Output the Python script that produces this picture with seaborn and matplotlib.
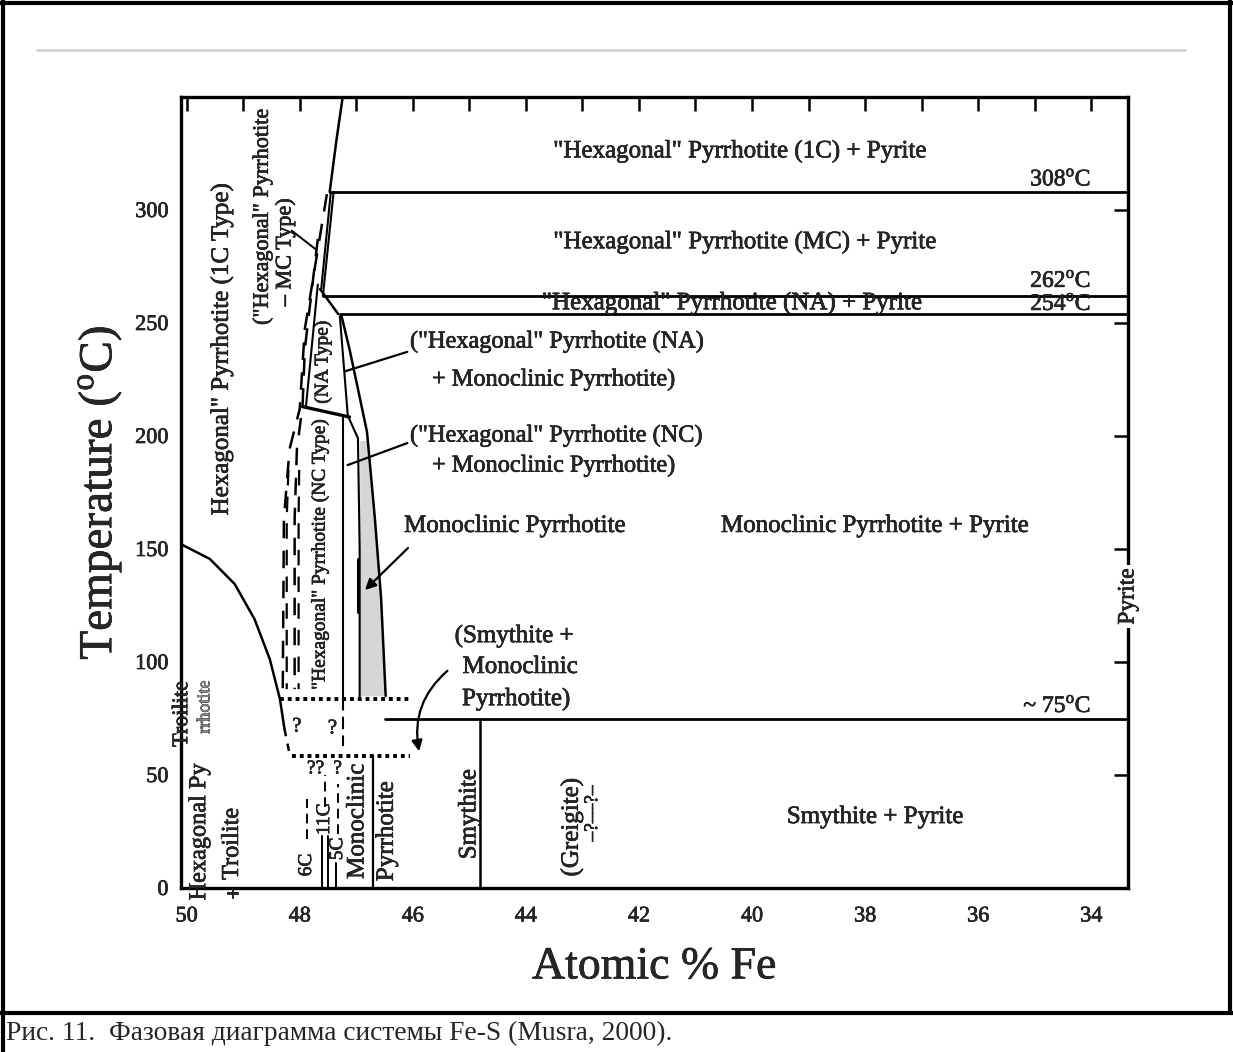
import numpy as np
import matplotlib
matplotlib.use("Agg")
import matplotlib.pyplot as plt
import matplotlib.patheffects as pe
import seaborn as sns
from matplotlib.lines import Line2D

# ---------------- data (x = Atomic % Fe, y = Temperature, °C) ----------------
x_ticks = [50, 48, 46, 44, 42, 40, 38, 36, 34]
y_ticks = [0, 50, 100, 150, 200, 250, 300]

iso_T = [308, 262, 254, 75]
iso_x0 = [47.47, 47.59, 47.29, 46.50]
iso_labels = ["308$^{\\rm o}$C", "262$^{\\rm o}$C", "254$^{\\rm o}$C", "~ 75$^{\\rm o}$C"]
iso_label_T = [313.5, 268.6, 258.4, 80.5]

top_x = [47.24, 47.35, 47.47]
top_T = [350, 331, 308]

mc1_x = [47.45, 47.62]
mc1_T = [308, 265]
mc2_x = [47.40, 47.59]
mc2_T = [308, 262]

diag_x = [47.64, 47.32]
diag_T = [265, 254]

na_left_x = [47.68, 47.89]
na_left_T = [267, 213]

nanc_x = [47.95, 47.12]
nanc_T = [213, 208.4]

na_right_x = [47.29, 47.15, 46.97, 46.94, 46.94]
na_right_T = [253, 209, 199, 150, 84]

mono_x = [47.26, 47.12, 46.97, 46.81, 46.67, 46.56, 46.48]
mono_T = [253, 238.5, 220.8, 201.8, 163.3, 127.9, 85]

nc_line_x = [47.24, 47.24]
nc_line_T = [208.4, 84]
nc_q_x = [47.24, 47.24]
nc_q_T = [84, 63]

short_x = [46.97, 46.97]
short_T = [145.6, 122]

wavy1_x = [48.35, 46.05]
wavy1_T = [83.6, 83.6]
wavy2_x = [48.14, 46.05]
wavy2_T = [58.4, 58.4]

troil_x = [50.09, 49.59, 49.15, 48.80, 48.53, 48.35, 48.27]
troil_T = [152, 145.6, 134.5, 119, 101.3, 83.6, 70.4]
troil_tail_x = [48.27, 48.18]
troil_tail_T = [70.4, 59.3]

dashA_x = [47.52, 47.91, 48.00, 48.18, 48.28, 48.30]
dashA_T = [307, 247.3, 212, 194.2, 163.3, 88]
dashB_x = [47.68, 47.91, 47.95, 48.05, 48.09, 48.09]
dashB_T = [287.2, 238.5, 213.3, 194.2, 163.3, 88]
dashA2_x = [48.20, 48.23, 48.23]
dashA2_T = [185, 163.3, 88]
dashB2_x = [48.01, 48.02, 48.02]
dashB2_T = [185, 163.3, 88]

monoline_x = [46.71, 46.71]
monoline_T = [0, 58.4]
smyth_x = [44.81, 44.81]
smyth_T = [0, 75]

poly_lines_x = [47.61, 47.50, 47.35]
poly_lines_top = [23, 23, 11]
poly_dash_x = [47.88, 47.56, 47.33]
poly_dash_T0 = [21.7, 36, 24]
poly_dash_T1 = [39.4, 50, 46]
poly_labels = ["6C", "11C", "5C"]
poly_label_T = [10.2, 30.5, 17.3]

xmin, xmax = 50.1, 33.35
ymin, ymax = 0, 350

# ---------------- style ----------------
sns.set_theme(style="white")
plt.rcParams["font.family"] = ["Liberation Serif", "DejaVu Serif"]
plt.rcParams["mathtext.fontset"] = "custom"
plt.rcParams["mathtext.rm"] = "Liberation Serif"

fig = plt.figure(figsize=(12.33, 10.52), dpi=100)
ax = fig.add_axes([181 / 1233, 1 - 888 / 1052, (1128 - 181) / 1233, (888 - 97) / 1052])
ax.set_facecolor("white")

K = "black"
thick = [pe.withStroke(linewidth=0.45, foreground=K)]


def seg(x, y, lw=1.8, ls="-", color=K):
    sns.lineplot(x=x, y=y, sort=False, estimator=None, color=color, lw=lw, ls=ls, ax=ax, legend=False)


def txt(x, y, s, fs=18, rot=0, ha="center", va="center", **kw):
    return ax.text(x, y, s, rotation=rot, ha=ha, va=va, fontsize=fs, path_effects=thick, **kw)


# isotherms
for T, x0 in zip(iso_T, iso_x0):
    seg([x0, xmax], [T, T], lw=2.0)

seg(top_x, top_T, lw=1.8)
seg(mc1_x, mc1_T, lw=1.5)
seg(mc2_x, mc2_T, lw=1.5)
seg(diag_x, diag_T, lw=1.8)
seg(na_left_x, na_left_T, lw=1.5)
seg(nanc_x, nanc_T, lw=2.4)
seg(na_right_x, na_right_T, lw=1.5)
seg(mono_x, mono_T, lw=1.8)
seg(nc_line_x, nc_line_T, lw=1.5)
seg(nc_q_x, nc_q_T, lw=1.5, ls=(0, (6, 3)))
seg(short_x, short_T, lw=2.2)
seg(troil_x, troil_T, lw=1.8)
seg(troil_tail_x, troil_tail_T, lw=1.8, ls=(0, (3, 3)))
seg(dashA_x, dashA_T, lw=1.8, ls=(0, (7, 5)))
seg(dashB_x, dashB_T, lw=1.8, ls=(0, (7, 5)))
seg(dashA2_x, dashA2_T, lw=1.6, ls=(0, (7, 5)))
seg(dashB2_x, dashB2_T, lw=1.6, ls=(0, (7, 5)))
seg(monoline_x, monoline_T, lw=1.6)
seg(smyth_x, smyth_T, lw=1.8)
seg(wavy1_x, wavy1_T, lw=2.8, ls=(0, (1, 1)))
seg(wavy2_x, wavy2_T, lw=2.8, ls=(0, (1, 1)))

for x, top in zip(poly_lines_x, poly_lines_top):
    seg([x, x], [0, top], lw=1.4)
for x, t0, t1 in zip(poly_dash_x, poly_dash_T0, poly_dash_T1):
    seg([x, x], [t0, t1], lw=1.4, ls=(0, (5, 3)))
for x, t, lab in zip(poly_dash_x, poly_label_T, poly_labels):
    txt(x, t, lab, fs=14, rot=90)

# shaded monoclinic field
Tf = np.linspace(85, 198, 60)
xr = np.interp(Tf, mono_T[::-1], mono_x[::-1])
ax.fill_betweenx(Tf, 46.94, xr, color="#d6d6d6", lw=0, zorder=0)

# ---------------- texts ----------------
txt(40.21, 326, '"Hexagonal" Pyrrhotite (1C) + Pyrite')
txt(40.12, 285.8, '"Hexagonal" Pyrrhotite (MC) + Pyrite')
txt(40.35, 258.8, '"Hexagonal" Pyrrhotite (NA) + Pyrite')
for T, lab in zip(iso_label_T, iso_labels):
    txt(34.0, T, lab, ha="right", fs=17)

txt(46.05, 241.6, '("Hexagonal" Pyrrhotite (NA)', ha="left", fs=17.5)
txt(45.66, 224.8, '+ Monoclinic Pyrrhotite)', ha="left", fs=17.5)
txt(46.05, 200, '("Hexagonal" Pyrrhotite (NC)', ha="left", fs=17.5)
txt(45.66, 186.7, '+ Monoclinic Pyrrhotite)', ha="left", fs=17.5)
txt(44.19, 160.2, 'Monoclinic Pyrrhotite')
txt(37.82, 160.2, 'Monoclinic Pyrrhotite + Pyrite')
txt(45.26, 111.5, '(Smythite +', ha="left")
txt(45.12, 97.8, 'Monoclinic', ha="left")
txt(45.13, 83.6, 'Pyrrhotite)', ha="left")
txt(37.82, 31.4, 'Smythite + Pyrite')

# rotated labels
txt(49.38, 238.5, 'Hexagonal" Pyrrhotite (1C Type)', rot=90)
txt(48.65, 297, '("Hexagonal" Pyrrhotite', fs=16, rot=90)
txt(48.25, 281.4, '– MC Type)', fs=16, rot=90)
txt(47.59, 232.7, '(NA Type)', fs=14, rot=90)
txt(47.64, 147.8, '"Hexagonal" Pyrrhotite (NC Type)', fs=14, rot=90)
txt(48.05, 71.2, '?', fs=15)
txt(47.42, 70.4, '?', fs=15)
txt(47.72, 52.7, '??', fs=14)
txt(47.33, 52.7, '?', fs=14)
txt(45.00, 32.7, 'Smythite', rot=90)
txt(43.19, 27, '(Greigite)', rot=90)
txt(42.82, 33, '–?––?–', fs=14, rot=90)
txt(46.98, 29.6, 'Monoclinic', rot=90)
txt(46.46, 25.2, 'Pyrrhotite', rot=90)
txt(50.07, 77, 'Troilite', fs=16, rot=90)
txt(49.68, 80, 'rrhotite', fs=13, rot=90, color="#8a8a8a")
txt(49.77, 24.8, 'Hexagonal Py', fs=17.5, rot=90, clip_on=False)
txt(49.19, 19.5, 'Troilite', fs=17.5, rot=90)
txt(49.19, -3.5, '+', fs=16, clip_on=False)
txt(xmax, 129, 'Pyrite', fs=17, rot=90,
    bbox=dict(facecolor="white", edgecolor="none", pad=2.5), zorder=5, clip_on=False)

# pointers
ax.annotate("", xy=(47.24, 228.3), xytext=(46.05, 237.6),
            arrowprops=dict(arrowstyle="-", color=K, lw=1.6))
ax.annotate("", xy=(47.20, 186.7), xytext=(46.05, 197.3),
            arrowprops=dict(arrowstyle="-", color=K, lw=1.6))
ax.annotate("", xy=(47.68, 281.9), xytext=(48.18, 291.6),
            arrowprops=dict(arrowstyle="-", color=K, lw=1.4))
ax.annotate("", xy=(46.88, 131), xytext=(46.05, 151.3),
            arrowprops=dict(arrowstyle="-|>", color=K, lw=1.6, mutation_scale=16))
ax.annotate("", xy=(45.88, 59.3), xytext=(45.35, 96.9),
            arrowprops=dict(arrowstyle="-|>", color=K, lw=1.6, mutation_scale=16,
                            connectionstyle="arc3,rad=0.3"))

# ---------------- axes ----------------
ax.set_xlim(xmin, xmax)
ax.set_ylim(ymin, ymax)
ax.set_xticks(x_ticks)
ax.set_xticklabels([str(v) for v in x_ticks], fontsize=16, path_effects=thick)
ax.set_xticks(np.arange(49, 33, -2), minor=True)
ax.set_yticks(y_ticks)
ax.set_yticklabels([str(v) for v in y_ticks], fontsize=16, path_effects=thick)
ax.tick_params(axis="both", which="both", direction="in", top=True, right=True,
               length=10, width=1.8, color=K)
ax.tick_params(axis="x", which="major", pad=14)
ax.tick_params(axis="y", which="major", pad=9)
for s in ax.spines.values():
    s.set_color(K)
    s.set_linewidth(2.4)
ax.set_xlabel("Atomic % Fe", fontsize=33, labelpad=14, path_effects=thick)
ax.set_ylabel("Temperature ($^{\\rm o}$C)", fontsize=34, labelpad=8, path_effects=thick)
ax.grid(False)

# ---------------- page frame & caption ----------------
W, H = 1233, 1052


def fl(x0, y0, x1, y1, lw=3, color=K):
    fig.add_artist(Line2D([x0 / W, x1 / W], [1 - y0 / H, 1 - y1 / H], color=color, lw=lw))


fl(0, 3, W, 3)
fl(3, 0, 3, H)
fl(1230, 0, 1230, 1013)
fl(0, 1013, W, 1013)
fl(37, 50, 1185, 50, lw=2, color="#d2d2d2")
fig.text(6 / W, 1 - 1033 / H, "Рис. 11.  Фазовая диаграмма системы Fe-S (Musra, 2000).",
         ha="left", va="center", fontsize=19.8, family=["Liberation Serif", "DejaVu Serif"])

fig.savefig("out.png", dpi=100, facecolor="white")
